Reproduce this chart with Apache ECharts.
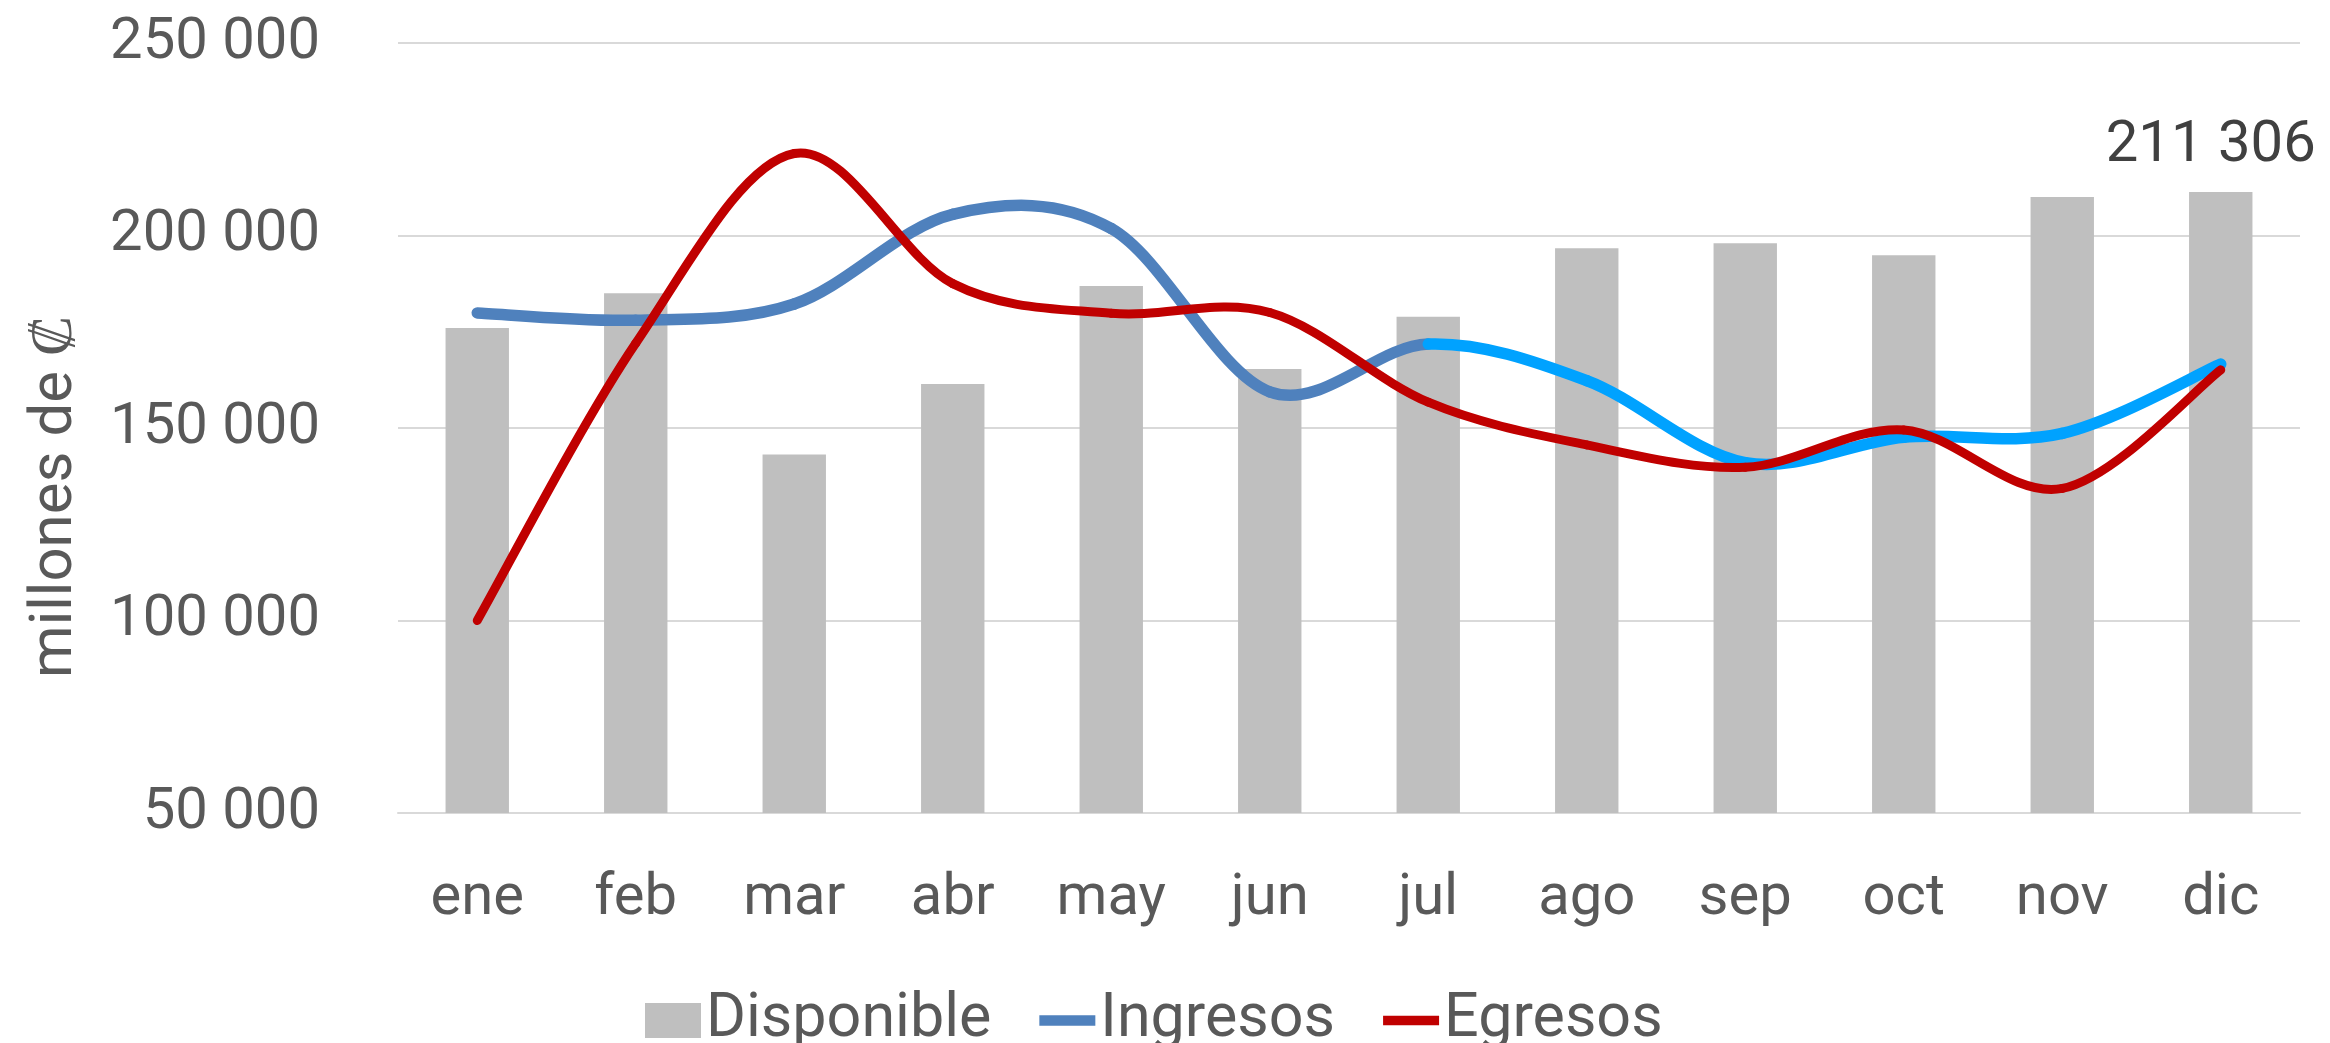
<!DOCTYPE html>
<html style="height: 100%">
<head>
    <meta charset="utf-8">
    <script type="text/javascript" src="https://cdn.jsdelivr.net/npm/echarts@6.0.0/dist/echarts.min.js"></script>
</head>
<body style="height: 100%; margin: 0">
    <div id="container" style="width: 2330px; height: 1043px"></div>
<script type="text/javascript">
// datos mensuales (millones de colones)
var meses = ['ene', 'feb', 'mar', 'abr', 'may', 'jun', 'jul', 'ago', 'sep', 'oct', 'nov', 'dic'];
var disponible = [176000, 185000, 143100, 161400, 186900, 165300, 178900, 196700, 198000, 194900, 210000, 211306];
var ingresos = [179900, 178000, 182200, 205500, 201800, 159400, 171800, 162300, 141000, 147600, 148600, 166600];
var egresos = [100000, 172000, 221300, 187500, 179800, 180000, 156700, 145600, 139800, 149500, 134300, 165100];
var yMin = 50000, yMax = 250000, yStep = 50000;

var dom = document.getElementById('container');
var myChart = echarts.init(dom);
var option;

var FONT = 'Roboto';
var GRIS = '#595959';

function miles(v) {
    return String(v).replace(/\B(?=(\d{3})+(?!\d))/g, ' ');
}

// only the last bar carries its value
var barData = disponible.map(function (v, i) {
    return {
        value: v,
        label: { show: i === disponible.length - 1 }
    };
});

// excel-like smoothed line: one cubic segment per month pair (catmull-rom),
// positions come from api.coord so the axes do the scaling
function curva(vals, colorFn, width) {
    return function (params, api) {
        var i = params.dataIndex;
        if (i >= vals.length - 1) return null;
        var p = function (k) {
            k = Math.max(0, Math.min(vals.length - 1, k));
            return api.coord([k, vals[k]]);
        };
        var p0 = p(i - 1), p1 = p(i), p2 = p(i + 1), p3 = p(i + 2);
        return {
            type: 'bezierCurve',
            shape: {
                x1: p1[0], y1: p1[1],
                x2: p2[0], y2: p2[1],
                cpx1: p1[0] + (p2[0] - p0[0]) / 6,
                cpy1: p1[1] + (p2[1] - p0[1]) / 6,
                cpx2: p2[0] - (p3[0] - p1[0]) / 6,
                cpy2: p2[1] - (p3[1] - p1[1]) / 6
            },
            style: {
                fill: 'none',
                stroke: colorFn(i),
                lineWidth: width,
                lineCap: 'round',
                lineJoin: 'round'
            }
        };
    };
}

function pares(vals) {
    return vals.map(function (v, i) { return [i, v]; });
}

option = {
    animation: false,
    backgroundColor: '#ffffff',
    grid: {
        left: 398,
        right: 30,
        top: 43,
        bottom: 230
    },
    xAxis: {
        type: 'category',
        data: meses,
        axisTick: { show: false },
        axisLine: { lineStyle: { color: '#D9D9D9', width: 2 } },
        axisLabel: {
            margin: 57,
            color: GRIS,
            fontFamily: FONT,
            fontSize: 58
        }
    },
    yAxis: {
        type: 'value',
        min: yMin,
        max: yMax,
        interval: yStep,
        axisLine: { show: false },
        axisTick: { show: false },
        splitLine: { lineStyle: { color: '#D9D9D9', width: 2 } },
        axisLabel: {
            margin: 78,
            color: GRIS,
            fontFamily: FONT,
            fontSize: 58,
            formatter: miles
        }
    },
    legend: {
        left: 640,
        top: 985,
        itemWidth: 56,
        itemHeight: 35,
        itemGap: 48,
        textStyle: { color: GRIS, fontFamily: FONT, fontSize: 61 },
        data: [
            { name: 'Disponible', icon: 'rect', itemStyle: { color: '#BFBFBF' } },
            { name: 'Ingresos', icon: 'path://M0,0 L60,0 L60,11 L0,11 Z', itemStyle: { color: '#4F81BD' } },
            { name: 'Egresos', icon: 'path://M0,0 L60,0 L60,10 L0,10 Z', itemStyle: { color: '#C00000' } }
        ]
    },
    graphic: [{
        type: 'text',
        x: 56,
        y: 497,
        rotation: Math.PI / 2,
        style: {
            text: 'millones de \u20a1',
            fill: GRIS,
            font: '60px Roboto',
            textAlign: 'center',
            textVerticalAlign: 'middle'
        }
    }],
    series: [
        {
            name: 'Disponible',
            type: 'bar',
            data: barData,
            barWidth: '40%',
            z: 2,
            itemStyle: { color: '#BFBFBF' },
            label: {
                position: 'top',
                distance: 16,
                offset: [-10, 0],
                color: '#404040',
                fontFamily: FONT,
                fontSize: 58,
                formatter: function (p) { return miles(p.value); }
            }
        },
        {
            name: 'Ingresos',
            type: 'custom',
            data: pares(ingresos),
            encode: { x: 0, y: 1 },
            z: 5,
            itemStyle: { color: '#4F81BD' },
            renderItem: curva(ingresos, function (i) {
                return i < 6 ? '#4F81BD' : '#00A2FF';
            }, 11.5)
        },
        {
            name: 'Egresos',
            type: 'custom',
            data: pares(egresos),
            encode: { x: 0, y: 1 },
            z: 6,
            itemStyle: { color: '#C00000' },
            renderItem: curva(egresos, function () { return '#C00000'; }, 9)
        }
    ]
};

if (option && typeof option === 'object') {
    myChart.setOption(option);
}
</script>
</body>
</html>
